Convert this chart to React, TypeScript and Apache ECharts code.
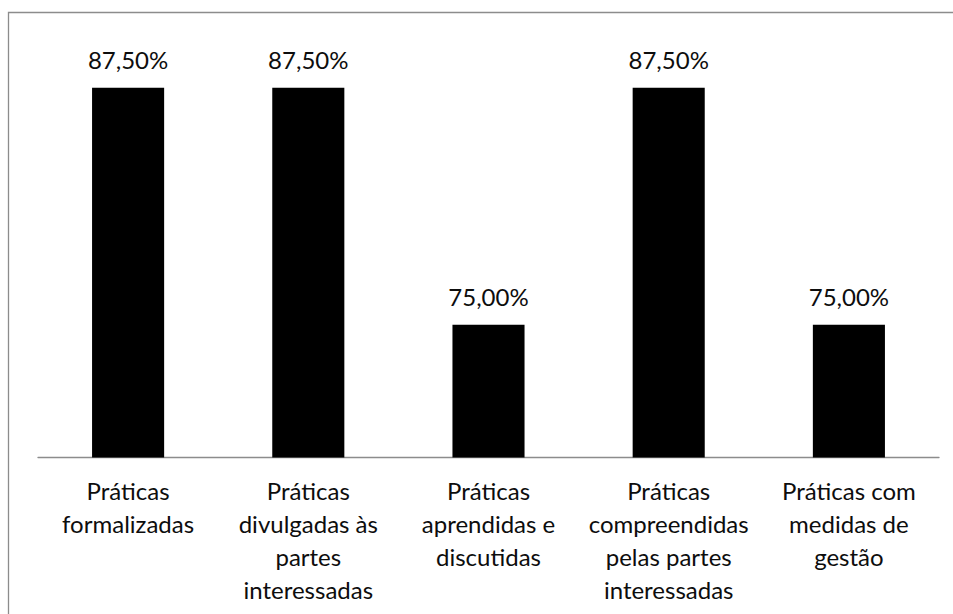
import React, { useEffect, useRef } from "react";
import * as echarts from "echarts";

// Share of practices in each category (fraction of 1)
const categories: string[] = [
  "Práticas\nformalizadas",
  "Práticas\ndivulgadas às\npartes\ninteressadas",
  "Práticas\naprendidas e\ndiscutidas",
  "Práticas\ncompreendidas\npelas partes\ninteressadas",
  "Práticas com\nmedidas de\ngestão",
];
const shares: number[] = [0.875, 0.875, 0.75, 0.875, 0.75];

const FONT = "Lato, 'Open Sans', sans-serif";

const formatPct = (v: number) => (v * 100).toFixed(2).replace(".", ",") + "%";

export default function App() {
  const ref = useRef<HTMLDivElement>(null);

  useEffect(() => {
    if (!ref.current) return;
    const chart = echarts.init(ref.current, null, { renderer: "svg" });
    chart.setOption({
      animation: false,
      backgroundColor: "#ffffff",
      textStyle: { fontFamily: FONT },
      grid: { left: 38, right: 14, top: 40.4, bottom: 156.5 },
      graphic: [
        {
          type: "rect",
          shape: { x: 8.5, y: 12.5, width: 1200, height: 1200 },
          style: { fill: "none", stroke: "#8c8c8c", lineWidth: 1.3 },
          silent: true,
        },
      ],
      xAxis: {
        type: "category",
        data: categories,
        axisLine: { show: true, lineStyle: { color: "#8c8c8c", width: 1.3 } },
        axisTick: { show: false },
        axisLabel: {
          interval: 0,
          color: "#0d0d0d",
          fontFamily: FONT,
          fontSize: 24,
          lineHeight: 33,
          margin: 16,
          align: "center",
        },
      },
      yAxis: {
        type: "value",
        min: 0.68,
        max: 0.9,
        interval: 0.02,
        show: false,
        splitLine: { show: false },
      },
      series: [
        {
          type: "bar",
          data: shares,
          barWidth: "40%",
          itemStyle: { color: "#000" },
          label: {
            show: true,
            position: "top",
            distance: 13,
            color: "#0d0d0d",
            fontFamily: FONT,
            fontSize: 24,
            lineHeight: 30,
            formatter: (p: any) => formatPct(p.value),
          },
        },
      ],
    });
    return () => chart.dispose();
  }, []);

  return (
    <div
      ref={ref}
      style={{ position: "absolute", left: 0, top: 0, width: 953, height: 614 }}
    />
  );
}
